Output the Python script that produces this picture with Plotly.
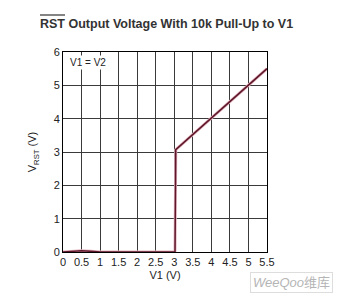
import plotly.graph_objects as go

v1 = [0.0, 0.25, 0.5, 0.75, 1.0, 3.02, 3.04, 5.5]
vrst = [0.0, 0.03, 0.04, 0.02, 0.0, 0.0, 3.07, 5.5]

x_ticks = [0, 0.5, 1, 1.5, 2, 2.5, 3, 3.5, 4, 4.5, 5, 5.5]
x_labels = ["0", "0.5", "1", "1.5", "2", "2.5", "3", "3.5", "4", "4.5", "5", "5.5"]
y_ticks = [0, 1, 2, 3, 4, 5, 6]

W, H = 337, 299
L, R, T, B = 63, 70, 52, 47

fig = go.Figure()
fig.add_trace(go.Scatter(x=v1, y=vrst, mode="lines",
                         line=dict(color="#e2b4c0", width=3), hoverinfo="skip"))
fig.add_trace(go.Scatter(x=v1, y=vrst, mode="lines",
                         line=dict(color="#5e1628", width=1.5)))

axis_font = dict(family="Liberation Sans, Arial, sans-serif", size=11, color="#222")
fig.update_layout(
    width=W, height=H,
    margin=dict(l=L, r=R, t=T, b=B),
    paper_bgcolor="white", plot_bgcolor="white",
    showlegend=False,
    xaxis=dict(range=[0, 5.5], tickvals=x_ticks, ticktext=x_labels,
               showgrid=True, gridcolor="#3a3a3a", gridwidth=1,
               showline=True, linecolor="black", linewidth=1, mirror=True,
               zeroline=False, ticks="", tickfont=axis_font,
               title=dict(text="V1 (V)", font=axis_font, standoff=4)),
    yaxis=dict(range=[0, 6], tickvals=y_ticks,
               showgrid=True, gridcolor="#3a3a3a", gridwidth=1,
               showline=True, linecolor="black", linewidth=1, mirror=True,
               zeroline=False, ticks="", tickfont=axis_font,
               title=dict(text="V<sub>RST</sub> (V)", font=axis_font, standoff=14)),
)

pw = W - L - R
ph = H - T - B

def px(xp):
    return (xp - L) / pw

def py(yp):
    return (H - B - yp) / ph

# Title
fig.add_annotation(text="<b>RST Output Voltage With 10k Pull-Up to V1</b>",
                   xref="paper", yref="paper", x=px(166), y=py(24),
                   showarrow=False, xanchor="center", yanchor="middle",
                   font=dict(family="Liberation Sans, Arial, sans-serif",
                             size=12.5, color="#333"))
# overline on RST
fig.add_shape(type="line", xref="paper", yref="paper",
              x0=px(40), x1=px(65), y0=py(15), y1=py(15),
              line=dict(color="#333", width=1.2))

# V1 = V2 label
fig.add_annotation(text="V1 = V2", xref="paper", yref="paper",
                   x=px(68), y=py(62), xanchor="left", yanchor="middle",
                   showarrow=False, bgcolor="white", borderpad=1,
                   font=dict(family="Liberation Sans, Arial, sans-serif", size=10, color="#222"))

# watermark
fig.add_annotation(text="<i>WeeQoo</i>维库", xref="paper", yref="paper",
                   x=px(333), y=py(282), xanchor="right", yanchor="middle",
                   showarrow=False, bgcolor="white",
                   bordercolor="#dddddd", borderwidth=1, borderpad=2,
                   font=dict(family="Liberation Sans, Noto Sans CJK SC, sans-serif",
                             size=13, color="#b5b5b5"))

fig.write_html("out.html")
